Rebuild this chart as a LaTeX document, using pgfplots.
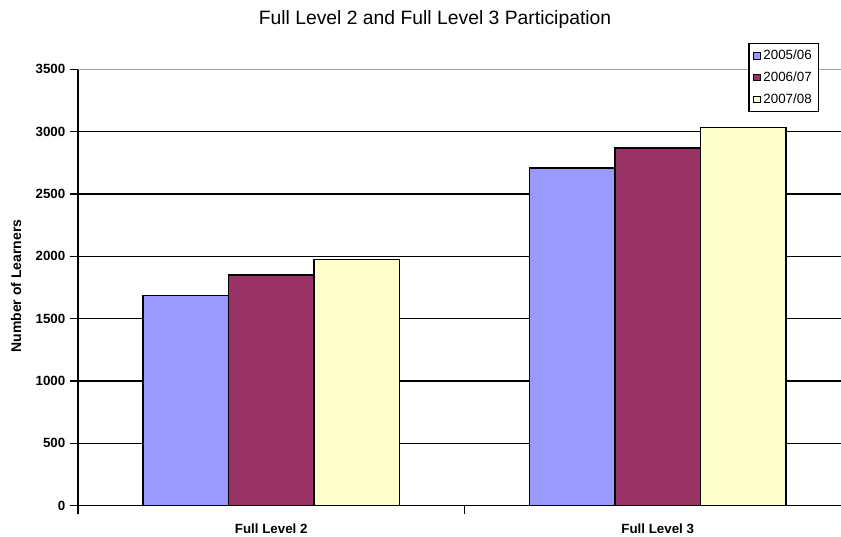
\documentclass[border=0pt]{standalone}
\usepackage{pgfplots}
\pgfplotsset{compat=1.18}
\usepackage{fontspec}
\setmainfont{Liberation Sans}
\definecolor{cblue}{HTML}{9999FF}
\definecolor{cpurple}{HTML}{993366}
\definecolor{cyellow}{HTML}{FFFFCC}
\begin{document}
\begin{tikzpicture}[x=0.75pt,y=-0.75pt]
\useasboundingbox (0,0) rectangle (841,536);
\clip (0,0) rectangle (841,536);
\begin{axis}[
  at={(58.5pt,-379.3pt)}, anchor=south west,
  scale only axis,
  width=579.75pt, height=327.3pt,
  xmin=-0.5, xmax=1.5,
  ymin=0, ymax=3500,
  ytick={0,500,1000,1500,2000,2500,3000,3500},
  xtick={-0.5,0.5,1.5},
  xticklabels={},
  extra x ticks={0,1},
  extra x tick labels={Full Level 2,Full Level 3},
  extra x tick style={major tick length=0pt, xticklabel style={yshift=-10pt}},
  axis x line*=bottom, axis y line*=left,
  axis line style={-, black, line width=1pt},
  tick align=outside,
  major tick length=6pt,
  tick style={black, line width=1pt},
  ymajorgrids,
  major grid style={black, line width=1pt},
  ticklabel style={font=\fontsize{10}{12}\selectfont\bfseries},
  /pgf/number format/assume math mode=true,
  yticklabel style={/pgf/number format/1000 sep={}},
  ybar=0pt,
  bar width=0.2212,
  legend style={at={(0.9586,1.061)}, anchor=north east, draw=black, line width=1pt,
    font=\fontsize{10}{12}\selectfont, row sep=3.5pt, inner xsep=3pt, inner ysep=3pt,
    cells={anchor=west}},
  legend image code/.code={\draw[#1, draw=black, line width=0.6pt] (0pt,-2.4pt) rectangle (5.2pt,2.4pt);},
]
\addplot[fill=cblue, draw=black, line width=1pt, bar shift=-0.2212] coordinates {(0,1688) (1,2708)};
\addplot[fill=cpurple, draw=black, line width=1pt, bar shift=0] coordinates {(0,1851) (1,2870)};
\addplot[fill=cyellow, draw=black, line width=1pt, bar shift=0.2212] coordinates {(0,1975) (1,3032)};
\legend{2005/06,2006/07,2007/08}
\draw[gray!70, line width=1pt] (rel axis cs:0,1) -- (rel axis cs:1,1);
\end{axis}
\node at (435,19) {\fontsize{14.5}{16}\selectfont Full Level 2 and Full Level 3 Participation};
\node[rotate=90] at (16,286) {\fontsize{10.5}{12}\selectfont\bfseries Number of Learners};
\end{tikzpicture}
\end{document}
